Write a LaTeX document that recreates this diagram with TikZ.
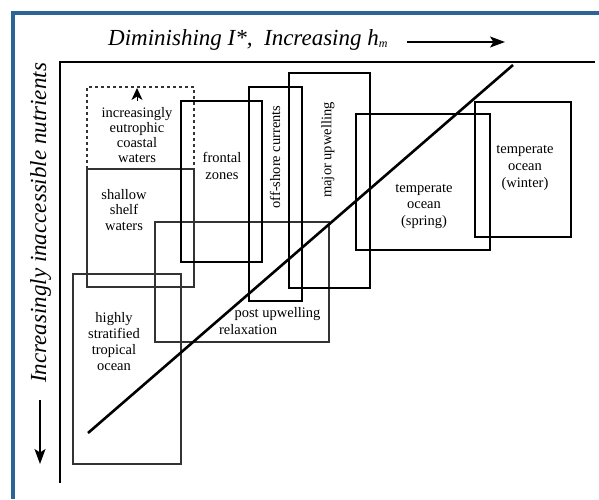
\documentclass[tikz,border=0pt]{standalone}
\usepackage{fontspec}
\setmainfont{Liberation Serif}
\usetikzlibrary{arrows.meta}
\definecolor{frameblue}{RGB}{44,99,153}
\begin{document}
\begin{tikzpicture}[x=1pt,y=-1pt,
  thinbox/.style={draw=black!80,line width=1.1pt},
  thickbox/.style={draw=black,line width=2.1pt},
  lbl/.style={font=\fontsize{14.5}{16}\selectfont,align=center,inner sep=0pt},
  axisline/.style={draw=black,line width=1.6pt},
  ttl/.style={font=\fontsize{23}{23}\selectfont\itshape,inner sep=0pt},
  arr/.style={draw=black,line width=1.3pt,-{Stealth[length=15pt,width=11pt,inset=3.5pt]}}]
\useasboundingbox (0,0) rectangle (599,499);
\fill[white] (0,0) rectangle (599,499);
% blue frame
\draw[frameblue,line width=4pt] (13,499) -- (13,12.5) -- (599,12.5);
% axes
\coordinate (axtop) at (595,62);
\coordinate (axcorner) at (60,62);
\coordinate (axbottom) at (60,483);
\draw[axisline] (axtop) -- (axcorner) -- (axbottom);
% axis titles
\node[ttl,anchor=base west] (xtitle) at (108,45) {Diminishing I*,\ \ Increasing h\raisebox{-0.28ex}{\fontsize{12}{12}\selectfont m}};
\coordinate (xa1) at (407,42);
\coordinate (xa2) at (505,42);
\draw[arr] (xa1) -- (xa2);
\node[ttl,anchor=base west,rotate=90] (ytitle) at (46,383) {Increasingly inaccessible nutrients};
\coordinate (ya1) at (40,400);
\coordinate (ya2) at (40,464);
\draw[arr] (ya1) -- (ya2);
% thin boxes
\draw[thinbox,dashed] (87,169) -- (87,87) -- (194,87) -- (194,169);
\draw[thinbox] (87,169) rectangle (194,287);
\draw[thinbox] (73,274) rectangle (181,464);
\draw[thinbox] (155,222) rectangle (329,342);
% thick boxes
\draw[thickbox] (181,101) rectangle (262,262);
\draw[thickbox] (249,87) rectangle (302,301);
\draw[thickbox] (289,73) rectangle (370,288);
\draw[thickbox] (356,114) rectangle (490,250);
\draw[thickbox] (475,102) rectangle (571,237);
% small arrow in dashed box
\coordinate (ea1) at (137,101);
\coordinate (ea2) at (137,88);
\draw[draw=black,line width=1pt,-{Stealth[length=12pt,width=11pt,inset=3.5pt]}] (ea1) -- (ea2);
% diagonal
\coordinate (d1) at (88,433);
\coordinate (d2) at (513,65);
\draw[line width=2.6pt] (d1) -- (d2);
% labels
\node[lbl,font=\fontsize{14.5}{14.7}\selectfont] (eut) at (137,135) {increasingly\\eutrophic\\coastal\\waters};
\node[lbl,font=\fontsize{14.5}{15.5}\selectfont] (shelf) at (124,210) {shallow\\shelf\\waters};
\node[lbl,font=\fontsize{14.5}{17.7}\selectfont] (front) at (222,166) {frontal\\zones};
\node[lbl,rotate=90] (offs) at (275,157) {off-shore currents};
\node[lbl,rotate=90] (major) at (328,150) {major upwelling};
\node[lbl,font=\fontsize{14.5}{16}\selectfont] (trop) at (114,342) {highly\\stratified\\tropical\\ocean};
\node[lbl] (post1) at (277.5,314) {post upwelling};
\node[lbl] (post2) at (248,330) {relaxation};
\node[lbl,font=\fontsize{14.5}{16.5}\selectfont] (spring) at (424,206) {temperate\\ocean\\(spring)};
\node[lbl,font=\fontsize{14.5}{17}\selectfont] (winter) at (525,168) {temperate\\ocean\\(winter)};
\end{tikzpicture}
\end{document}
